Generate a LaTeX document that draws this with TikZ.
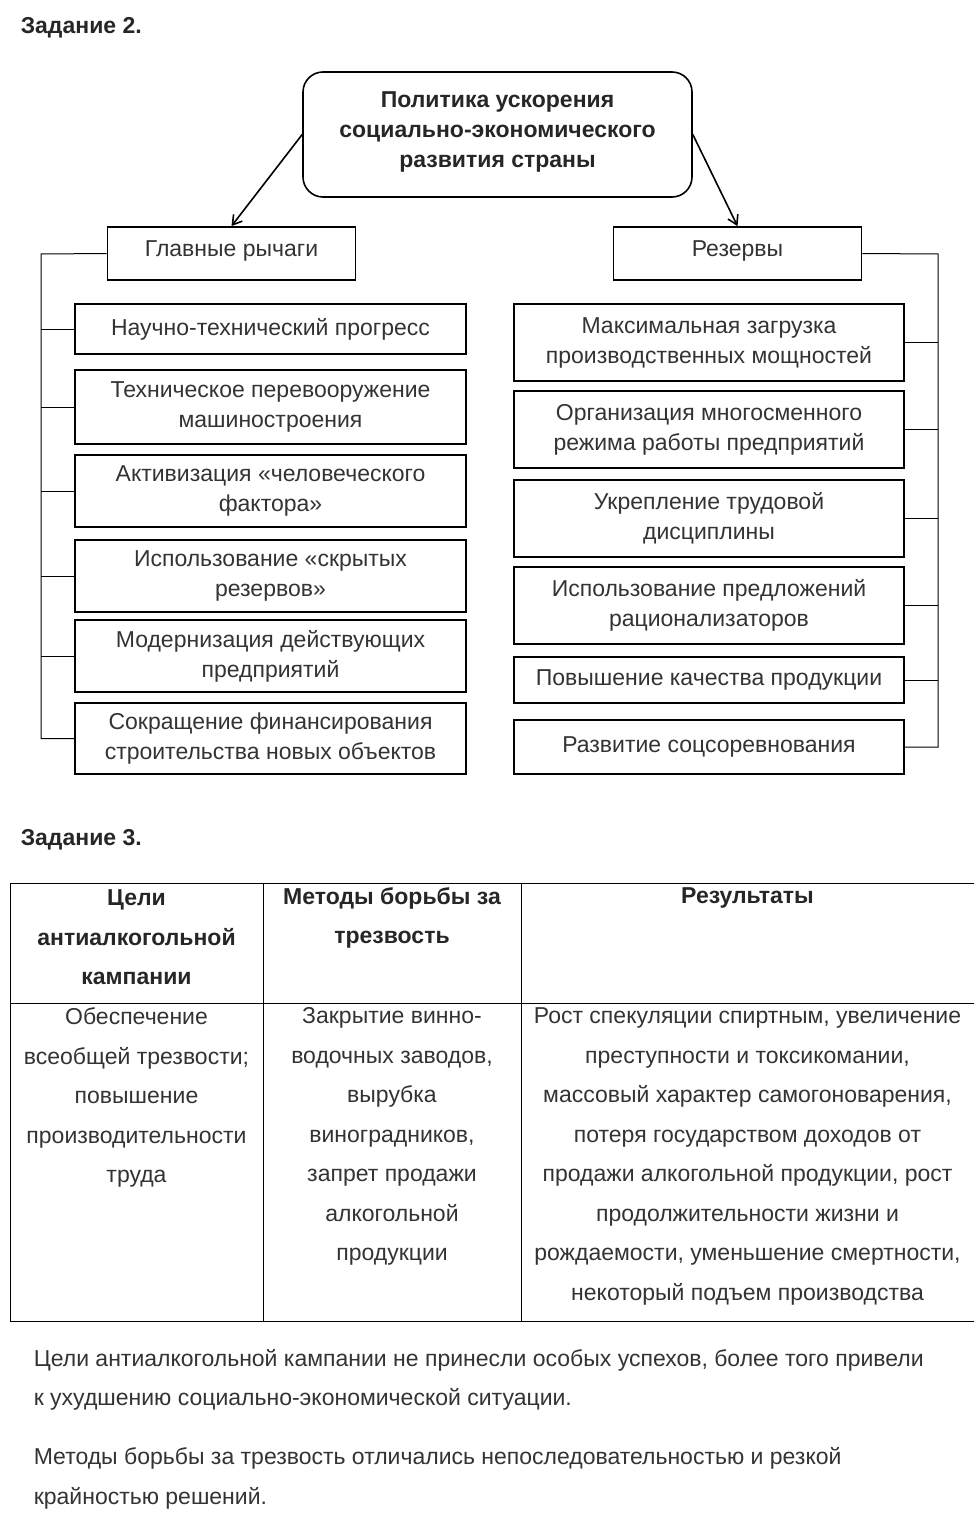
\documentclass[tikz,border=0pt]{standalone}
\usepackage{fontspec}
\setmainfont{Liberation Sans}
\usepackage{tikz}
\usetikzlibrary{positioning,shapes,arrows.meta}
\definecolor{txtGray}{HTML}{333333}

\begin{document}
\begin{tikzpicture}[x=1pt, y=-1pt, line width=1.6pt, >={Straight Barb[length=9pt,width=11pt]},
    itemBox/.style={draw=black, line width=1.8pt, text=txtGray, align=center, inner sep=0pt,
        font=\fontsize{23}{30}\selectfont},
    headBox/.style={itemBox, minimum width=248pt, minimum height=53pt, text height=17pt, text depth=11pt},
    leverBox/.style={itemBox, minimum width=391pt},
    resBox/.style={itemBox, minimum width=390pt},
    rail/.style={draw=black, line width=1pt},
    taskLabel/.style={anchor=west, inner sep=0pt, text=black!85, font=\fontsize{23}{26}\selectfont\bfseries},
    cellText/.style={align=center, inner sep=0pt, text=txtGray, font=\fontsize{23}{39.5}\selectfont},
    cellHead/.style={align=center, inner sep=0pt, text=black!85, font=\fontsize{23}{39.5}\selectfont\bfseries}]
    \useasboundingbox (0,0) rectangle (976,1522);

    % task 2
    \node[taskLabel] (task2) at (20,28) {Задание 2.};

    \node[draw=black, line width=1.6pt, rounded corners=20pt, minimum width=389pt, minimum height=125pt,
        align=center, text=black!85, font=\fontsize{23}{30}\selectfont\bfseries] (topBox) at (497.5,134.5)
        {Политика ускорения\\социально-экономического\\развития страны\rule[-9pt]{0pt}{9pt}};

    \node[headBox] (leverHead) at (231.5,253.5) {Главные рычаги};
    \node[headBox] (resHead) at (737.5,253.5) {Резервы};

    \draw[->] (topBox.west) -- (leverHead.north);
    \draw[->] (topBox.east) -- (resHead.north);

    \node[leverBox, minimum height=50pt] (lever1) at (270.5,329) {Научно-технический прогресс};
    \node[leverBox, minimum height=74pt] (lever2) at (270.5,407) {Техническое перевооружение\\машиностроения};
    \node[leverBox, minimum height=72pt] (lever3) at (270.5,491) {Активизация «человеческого\\фактора»};
    \node[leverBox, minimum height=72pt] (lever4) at (270.5,576) {Использование «скрытых\\резервов»};
    \node[leverBox, minimum height=72pt] (lever5) at (270.5,656) {Модернизация действующих\\предприятий};
    \node[leverBox, minimum height=71pt] (lever6) at (270.5,738.5) {Сокращение финансирования\\строительства новых объектов};

    \node[resBox, minimum height=77pt] (res1) at (709,342.5) {Максимальная загрузка\\производственных мощностей};
    \node[resBox, minimum height=77pt] (res2) at (709,429.5) {Организация многосменного\\режима работы предприятий};
    \node[resBox, minimum height=77pt] (res3) at (709,518.5) {Укрепление трудовой\\дисциплины};
    \node[resBox, minimum height=77pt] (res4) at (709,605.5) {Использование предложений\\рационализаторов};
    \node[resBox, minimum height=46pt] (res5) at (709,680) {Повышение качества продукции};
    \node[resBox, minimum height=54pt] (res6) at (709,747) {Развитие соцсоревнования};

    \coordinate (leftRail) at (41,254);
    \coordinate (rightRail) at (938,254);
    \draw[rail] (leverHead.west) -- (leftRail) -- (leftRail |- lever6.west) -- (lever6.west);
    \draw[rail] (lever1.west) -- (lever1.west -| leftRail);
    \draw[rail] (lever2.west) -- (lever2.west -| leftRail);
    \draw[rail] (lever3.west) -- (lever3.west -| leftRail);
    \draw[rail] (lever4.west) -- (lever4.west -| leftRail);
    \draw[rail] (lever5.west) -- (lever5.west -| leftRail);
    \draw[rail] (resHead.east) -- (rightRail) -- (rightRail |- res6.east) -- (res6.east);
    \draw[rail] (res1.east) -- (res1.east -| rightRail);
    \draw[rail] (res2.east) -- (res2.east -| rightRail);
    \draw[rail] (res3.east) -- (res3.east -| rightRail);
    \draw[rail] (res4.east) -- (res4.east -| rightRail);
    \draw[rail] (res5.east) -- (res5.east -| rightRail);

    % task 3
    \node[taskLabel] (task3) at (20,840) {Задание 3.};

    \draw[rail] (10,883) -- (974,883);
    \draw[rail] (10,1003) -- (974,1003);
    \draw[rail] (10,1321) -- (974,1321);
    \draw[rail] (10,883) -- (10,1321);
    \draw[rail] (263,883) -- (263,1321);
    \draw[rail] (521,883) -- (521,1321);

    \node[cellHead] (goalHead) at (136.5,937.5) {Цели\\антиалкогольной\\кампании};
    \node[cellHead] (methodHead) at (392,918) {Методы борьбы за\\трезвость};
    \node[cellHead] (resultHead) at (747.5,898) {Результаты};

    \node[cellText] (goalCell) at (136.5,1097.5)
        {Обеспечение\\всеобщей трезвости;\\повышение\\производительности\\труда};
    \node[cellText] (methodCell) at (392,1136.5)
        {Закрытие винно-\\водочных заводов,\\вырубка\\виноградников,\\запрет продажи\\алкогольной\\продукции};
    \node[cellText] (resultCell) at (747.5,1156.5)
        {Рост спекуляции спиртным, увеличение\\преступности и токсикомании,\\массовый характер самогоноварения,\\потеря государством доходов от\\продажи алкогольной продукции, рост\\продолжительности жизни и\\рождаемости, уменьшение смертности,\\некоторый подъем производства};

    \node[cellText, anchor=west, align=left] (summary1) at (33,1380)
        {Цели антиалкогольной кампании не принесли особых успехов, более того привели\\к ухудшению социально-экономической ситуации.};
    \node[cellText, anchor=west, align=left] (summary2) at (33,1478.5)
        {Методы борьбы за трезвость отличались непоследовательностью и резкой\\крайностью решений.};
\end{tikzpicture}
\end{document}
